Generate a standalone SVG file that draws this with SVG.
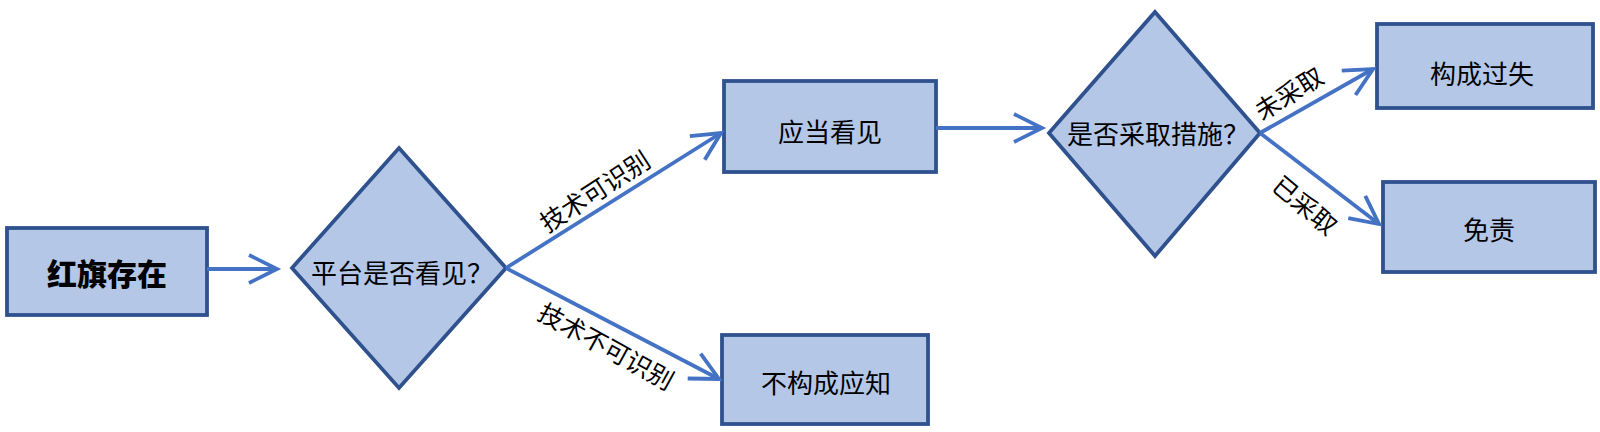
<svg xmlns="http://www.w3.org/2000/svg" width="1600" height="432" viewBox="0 0 1600 432">
<style>
.box{fill:#B4C7E7;stroke:#2F528F;stroke-width:3.8}
.t{font-family:"Noto Sans CJK SC",sans-serif;font-size:26px;fill:#000;text-anchor:middle;dominant-baseline:central}
.b{font-family:"Noto Sans CJK SC",sans-serif;font-size:30px;font-weight:900;fill:#000;text-anchor:middle;dominant-baseline:central}
.lbl{font-family:"Noto Sans CJK SC",sans-serif;font-size:25px;fill:#000;text-anchor:middle;dominant-baseline:central}
.c{stroke:#4472C4;stroke-width:3.8;fill:none}
</style>
<defs>
<marker id="ah" markerUnits="userSpaceOnUse" markerWidth="40" markerHeight="40" viewBox="-32 -20 36 40" refX="0" refY="0" orient="auto" overflow="visible">
<path d="M-28,-14 L0,0 L-28,14" fill="none" stroke="#4472C4" stroke-width="3.8"/>
</marker>
</defs>
<rect width="1600" height="432" fill="#fff"/>
<g id="n1"><rect class="box" x="7" y="228" width="200" height="87"/><text class="b" x="107" y="272">红旗存在</text></g>
<g id="d1"><polygon class="box" points="399,148 506,268 399,388 292,268"/><text class="t" x="402" y="271">平台是否看见？</text></g>
<g id="n2"><rect class="box" x="724" y="81" width="212" height="91"/><text class="t" x="830" y="130">应当看见</text></g>
<g id="n3"><rect class="box" x="722" y="335" width="206" height="89"/><text class="t" x="826" y="381">不构成应知</text></g>
<g id="d2"><polygon class="box" points="1155,12 1260,133 1155,256 1049,133"/><text class="t" x="1158" y="132">是否采取措施？</text></g>
<g id="n4"><rect class="box" x="1377" y="24" width="216" height="84"/><text class="t" x="1482" y="72">构成过失</text></g>
<g id="n5"><rect class="box" x="1383" y="182" width="212" height="90"/><text class="t" x="1489" y="228">免责</text></g>
<g id="connectors">
<line class="c" x1="207" y1="269" x2="277" y2="269" marker-end="url(#ah)"/>
<line class="c" x1="506" y1="268" x2="721" y2="133" marker-end="url(#ah)"/>
<line class="c" x1="506" y1="268" x2="719" y2="379" marker-end="url(#ah)"/>
<line class="c" x1="936" y1="128" x2="1042" y2="128" marker-end="url(#ah)"/>
<line class="c" x1="1260" y1="133" x2="1373" y2="69" marker-end="url(#ah)"/>
<line class="c" x1="1260" y1="133" x2="1379" y2="224" marker-end="url(#ah)"/>
<text class="lbl" transform="translate(594,190) rotate(-33)">技术可识别</text>
<text class="lbl" transform="translate(607,345) rotate(29)">技术不可识别</text>
<text class="lbl" transform="translate(1288,92) rotate(-32)">未采取</text>
<text class="lbl" transform="translate(1306,204) rotate(40)">已采取</text>
</g>
</svg>
